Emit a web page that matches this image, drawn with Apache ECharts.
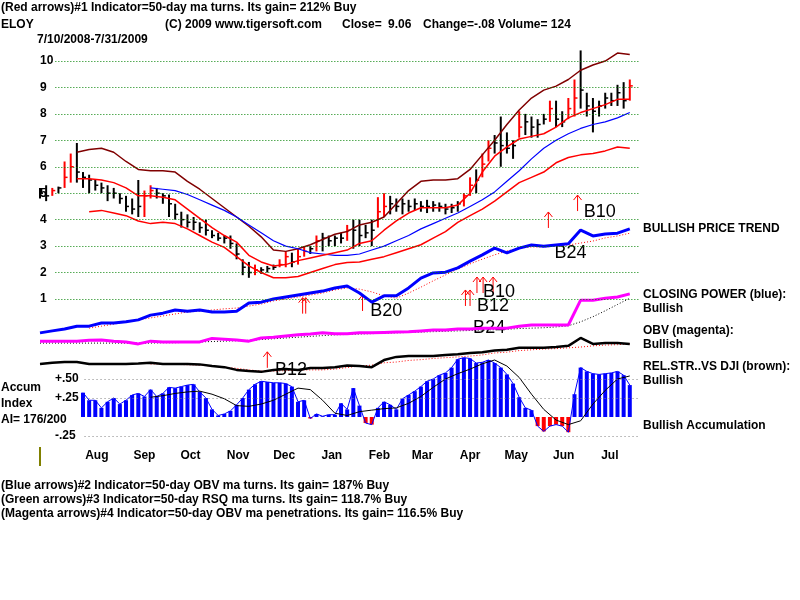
<!DOCTYPE html>
<html>
<head>
<meta charset="utf-8">
<script src="https://cdn.jsdelivr.net/npm/echarts@6/dist/echarts.min.js"></script>
<style>
  html, body { margin: 0; padding: 0; background: #fff; }
  #chart { width: 800px; height: 600px; }
</style>
</head>
<body>
<div id="chart"></div>
<script>
// ELOY 7/10/2008 - 7/31/2009, x values are calendar days from the first date
const startDate = Date.UTC(2008, 6, 10);
const barStep = 4;   // price bars and accumulation read every 4 days
const lineStep = 8;  // averages and indicator lines read every 8 days

const monthNames = ['Aug', 'Sep', 'Oct', 'Nov', 'Dec', 'Jan', 'Feb', 'Mar', 'Apr', 'May', 'Jun', 'Jul'];
const priceTicks = [1, 2, 3, 4, 5, 6, 7, 8, 9, 10];
const accumTicks = [-0.25, 0.25, 0.5];
const accumTickLabels = ['-.25', '+.25', '+.50'];

const priceHigh = [5.2, 5.3, 5.2, 5.25, 6.2, 6.5, 6.9, 5.8, 5.7, 5.5,
  5.4, 5.3, 5.2, 5.0, 4.9, 4.8, 5.5, 5.1, 5.3, 5.2,
  5.0, 4.95, 4.6, 4.3, 4.2, 4.1, 3.9, 4.0, 3.6, 3.5,
  3.4, 3.4, 3.1, 2.5, 2.4, 2.3, 2.2, 2.25, 2.3, 2.5,
  2.8, 2.75, 2.9, 3.0, 3.0, 3.4, 3.5, 3.4, 3.4, 3.5,
  3.8, 4.0, 4.0, 3.8, 4.0, 4.85, 5.0, 4.9, 4.8, 4.8,
  4.75, 4.8, 4.7, 4.75, 4.7, 4.65, 4.6, 4.6, 4.7, 5.0,
  5.6, 5.9, 6.5, 7.0, 7.2, 7.9, 7.3, 7.0, 8.1, 8.0,
  7.9, 7.8, 8.0, 8.5, 8.5, 8.1, 8.6, 9.3, 10.4, 8.8,
  8.6, 8.5, 8.8, 8.8, 9.1, 9.2, 9.3];
const priceLow = [4.8, 4.7, 4.9, 5.0, 5.2, 5.4, 5.4, 5.2, 5.0, 5.1,
  5.0, 4.7, 4.8, 4.6, 4.3, 4.2, 4.1, 4.1, 4.8, 4.8,
  4.6, 4.1, 4.0, 3.7, 3.7, 3.6, 3.5, 3.4, 3.3, 3.2,
  3.1, 2.9, 2.5, 1.9, 1.8, 1.9, 1.95, 2.0, 2.1, 2.2,
  2.2, 2.2, 2.3, 2.6, 2.7, 2.8, 2.8, 3.0, 3.0, 3.1,
  3.2, 2.9, 3.0, 3.3, 3.0, 3.7, 4.1, 4.2, 4.3, 4.2,
  4.3, 4.35, 4.3, 4.25, 4.3, 4.3, 4.2, 4.25, 4.3, 4.5,
  4.9, 5.0, 5.6, 6.2, 6.5, 6.0, 6.5, 6.3, 7.1, 7.2,
  7.1, 7.1, 7.6, 7.7, 7.5, 7.5, 7.8, 7.9, 8.2, 7.9,
  7.3, 7.9, 8.2, 8.3, 8.3, 8.2, 8.5];
const priceClose = [5.0, 4.9, 5.1, 5.2, 5.6, 6.0, 5.8, 5.6, 5.5, 5.3,
  5.2, 5.0, 5.0, 4.8, 4.5, 4.4, 4.5, 4.9, 5.1, 5.0,
  4.9, 4.6, 4.2, 4.0, 3.9, 3.9, 3.7, 3.6, 3.4, 3.3,
  3.3, 3.1, 2.7, 2.2, 2.0, 2.1, 2.1, 2.15, 2.2, 2.3,
  2.6, 2.4, 2.6, 2.8, 2.9, 3.2, 3.3, 3.2, 3.3, 3.3,
  3.6, 3.6, 3.4, 3.5, 3.6, 4.3, 4.5, 4.6, 4.5, 4.6,
  4.5, 4.6, 4.5, 4.5, 4.55, 4.5, 4.4, 4.45, 4.6, 4.9,
  5.3, 5.5, 6.1, 6.7, 6.9, 6.8, 6.7, 6.8, 7.5, 7.7,
  7.5, 7.6, 7.8, 8.2, 7.8, 7.7, 8.2, 8.6, 8.9, 8.3,
  8.1, 8.3, 8.6, 8.5, 8.8, 8.5, 9.06];

const upperBand = [null, null, null, 6.55, 6.65, 6.7, 6.55, 6.2, 5.9, 5.85,
  5.85, 5.8, 5.45, 5.15, 4.8, 4.45, 4.1, 3.75, 3.35, 2.85,
  2.8, 2.9, 3.05, 3.25, 3.45, 3.55, 3.8, 3.9, 4.1, 4.6,
  5.1, 5.45, 5.5, 5.5, 5.55, 5.9, 6.45, 7.0, 7.6, 8.15,
  8.6, 8.9, 9.05, 9.3, 9.65, 9.85, 10.0, 10.3, 10.25];
const midBand = [null, null, null, 5.55, 5.55, 5.5, 5.4, 5.2, 4.9, 4.9,
  4.85, 4.75, 4.4, 4.05, 3.7, 3.4, 3.15, 2.65, 2.4, 2.25,
  2.3, 2.45, 2.55, 2.65, 2.75, 2.85, 3.1, 3.2, 3.6, 3.95,
  4.25, 4.45, 4.45, 4.45, 4.55, 5.0, 5.8, 6.4, 6.75, 7.05,
  7.15, 7.25, 7.5, 7.85, 8.05, 8.2, 8.35, 8.55, 8.55];
const ma50 = [null, null, null, null, null, null, null, null, null, 5.2,
  5.15, 5.1, 4.95, 4.75, 4.55, 4.35, 4.1, 3.8, 3.5, 3.2,
  3.0, 2.9, 2.75, 2.7, 2.65, 2.65, 2.7, 2.85, 3.0, 3.2,
  3.4, 3.65, 3.85, 4.05, 4.25, 4.5, 4.75, 5.05, 5.45, 5.85,
  6.3, 6.7, 7.0, 7.25, 7.45, 7.6, 7.7, 7.85, 8.05];
const lowerBand = [null, null, null, null, 4.3, 4.35, 4.25, 4.15, 3.95, 3.85,
  3.9, 3.85, 3.65, 3.4, 3.15, 2.95, 2.6, 2.25, 2.0, 1.8,
  1.8, 1.85, 2.0, 2.15, 2.3, 2.38, 2.4, 2.5, 2.6, 2.75,
  2.9, 3.05, 3.3, 3.55, 3.9, 4.15, 4.4, 4.7, 5.05, 5.4,
  5.6, 5.8, 6.15, 6.35, 6.45, 6.5, 6.6, 6.75, 6.7];

// indicator panels, arbitrary units
const closingPower = [27.7, 28.2, 28.7, 29.4, 29.4, 30.2, 30.2, 30.5, 31.0, 32.2,
  32.7, 33.5, 33.2, 33.5, 33.0, 33.0, 33.2, 35.3, 35.5, 36.3,
  36.8, 37.3, 37.8, 38.3, 39.1, 39.6, 37.8, 35.5, 37.1, 37.1,
  39.1, 41.6, 42.9, 43.1, 44.2, 45.9, 47.5, 49.2, 48.0, 49.2,
  50.0, 49.7, 50.0, 50.3, 53.8, 52.3, 52.8, 53.0, 54.1];
const closingPowerMa = [null, null, null, null, 28.9, 29.4, 29.9, 30.5, 31.0, 31.5,
  32.0, 32.5, 33.0, 33.2, 33.5, 33.8, 34.0, 34.5, 35.0, 35.8,
  36.3, 36.8, 37.3, 37.8, 38.6, 39.1, 38.8, 38.1, 37.1, 36.5,
  37.8, 39.3, 40.9, 42.4, 43.9, 45.2, 46.4, 47.5, 48.5, 49.2,
  49.5, 49.5, 49.7, 50.0, 50.5, 51.0, 51.8, 52.3, 53.0];
const obv = [25.6, 25.6, 25.6, 25.6, 25.8, 25.9, 25.6, 25.4, 24.9, 25.6,
  25.4, 25.4, 25.4, 25.4, 26.3, 26.1, 25.9, 25.6, 26.4, 26.6,
  26.9, 27.2, 27.4, 27.7, 27.5, 27.5, 27.7, 27.7, 27.8, 27.9,
  28.0, 28.2, 28.4, 28.4, 28.7, 28.7, 28.9, 28.9, 28.9, 29.4,
  29.7, 29.7, 29.7, 29.7, 36.0, 36.0, 36.5, 36.8, 37.6];
const obvMa = [25.1, 25.1, 25.1, 25.1, 25.1, 25.1, 25.1, 25.1, 25.1, 25.1,
  25.2, 25.2, 25.3, 25.4, 25.5, 25.6, 25.7, 25.8, 26.0, 26.2,
  26.4, 26.6, 26.8, 27.0, 27.2, 27.3, 27.4, 27.5, 27.6, 27.7,
  27.8, 27.9, 28.0, 28.1, 28.2, 28.3, 28.4, 28.5, 28.6, 28.8,
  28.9, 29.0, 29.2, 29.5, 30.5, 31.8, 33.3, 34.9, 36.5];
const relStr = [19.8, 20.1, 20.3, 20.3, 19.8, 19.8, 19.8, 19.8, 19.9, 20.1,
  19.8, 19.8, 19.8, 19.7, 19.3, 19.0, 18.3, 18.0, 17.8, 18.3,
  18.5, 18.3, 18.8, 18.8, 19.0, 19.4, 19.3, 19.0, 20.8, 21.6,
  21.8, 21.8, 21.8, 22.1, 22.3, 22.6, 22.8, 23.2, 23.4, 23.9,
  23.9, 23.9, 24.1, 24.4, 26.4, 24.9, 25.1, 25.1, 24.9];
const relStrMa = [null, null, null, null, null, null, null, null, null, 19.8,
  19.8, 19.7, 19.6, 19.5, 19.3, 19.0, 18.7, 18.3, 18.0, 18.0,
  18.1, 18.3, 18.3, 18.3, 18.5, 18.9, 19.3, 19.5, 20.1, 20.3,
  20.7, 20.9, 21.2, 21.4, 21.6, 21.8, 22.1, 22.6, 22.8, 23.2,
  23.4, 23.6, 23.7, 23.9, 24.1, 24.4, 24.6, 24.7, 24.9];

const accumIndex = [null, null, null, null, null, null, null, 0.32, 0.22, 0.22,
  0.12, 0.2, 0.25, 0.17, 0.22, 0.29, 0.31, 0.27, 0.36, 0.27,
  0.31, 0.39, 0.38, 0.4, 0.42, 0.43, 0.33, 0.25, 0.1, 0.02,
  0.04, 0.08, 0.16, 0.25, 0.36, 0.43, 0.47, 0.46, 0.45, 0.45,
  0.44, 0.4, 0.2, 0.22, -0.02, 0.04, 0.01, 0.03, 0.03, 0.18,
  0.1, 0.38, 0.15, -0.08, -0.1, 0.12, 0.2, 0.16, 0.1, 0.24,
  0.29, 0.34, 0.4, 0.47, 0.5, 0.55, 0.58, 0.65, 0.76, 0.78,
  0.77, 0.71, 0.72, 0.75, 0.71, 0.65, 0.56, 0.44, 0.26, 0.12,
  0.09, -0.12, -0.19, -0.12, -0.1, -0.12, -0.2, 0.3, 0.65, 0.6,
  0.57, 0.56, 0.57, 0.58, 0.6, 0.55, 0.42];
const accumMa = [null, null, null, null, null, null, null, null, null, 0.26,
  0.28, 0.31, 0.33, 0.34, 0.3, 0.24, 0.15, 0.14, 0.17, 0.22,
  0.3, 0.38, 0.36, 0.22, 0.05, 0.02, 0.07, 0.09, 0.11, 0.12,
  0.18, 0.27, 0.39, 0.5, 0.57, 0.63, 0.7, 0.75, 0.67, 0.52,
  0.3, 0.1, -0.04, -0.1, -0.05, 0.17, 0.35, 0.5, 0.54];

// buy signals (red arrows): day and price-scale level of the arrow tip
const arrowDays = [148, 171, 173, 210, 277, 280, 284.5, 288.5, 295, 331, 350];
const arrowLevels = [-1.0, 1.05, 1.05, 1.15, 1.34, 1.34, 1.83, 1.83, 1.83, 4.29, 4.93];
const signalLabels = ['B12', 'B20', 'B12', 'B10', 'B24', 'B24', 'B10'];
const signalDays = [153, 215, 284.5, 288.5, 282, 335, 354];
const signalLevels = [-1.69, 0.54, 0.73, 1.26, -0.1, 2.74, 4.29];

const font = 'Liberation Sans, Arial, sans-serif';
const monthDays = monthNames.map((_, k) => Math.round((Date.UTC(2008, 7 + k, 16) - startDate) / 864e5));
const pairs = (vals, step) => vals.map((v, i) => [i * step, v]);
const bars = priceHigh.map((h, i) => [i * barStep, priceLow[i], h, priceClose[i]]);

const chart = echarts.init(document.getElementById('chart'));

function line(data, yAxisIndex, color, width, type) {
  return {
    type: 'line', data: pairs(data, lineStep), yAxisIndex: yAxisIndex,
    showSymbol: false, silent: true,
    lineStyle: { color: color, width: width, type: type || 'solid' }
  };
}

const upperSeries = line(upperBand, 0, '#800000', 1.5);
upperSeries.markLine = {
  silent: true, symbol: ['none', 'none'], label: { show: false },
  lineStyle: { color: '#008000', width: 1, type: [1, 2] },
  data: priceTicks.map(v => [{ coord: [10, v] }, { coord: [390, v] }])
};

const accumMaSeries = line(accumMa, 1, '#000000', 1);
accumMaSeries.markLine = {
  silent: true, symbol: ['none', 'none'], label: { show: false },
  lineStyle: { color: '#808080', width: 1, type: [1, 3] },
  data: accumTicks.map(v => [{ coord: [29, v] }, { coord: [390, v] }])
};

const accumOutline = {
  type: 'line', data: pairs(accumIndex, barStep), yAxisIndex: 1,
  showSymbol: false, silent: true,
  lineStyle: { color: '#0000ff', width: 1 }
};

const option = {
  animation: false,
  grid: { left: 40, right: 161, top: 48, bottom: 158 },
  xAxis: {
    type: 'value', min: 0, max: 390,
    axisLine: { show: false }, axisTick: { show: false }, splitLine: { show: false },
    axisLabel: {
      customValues: monthDays,
      formatter: v => monthNames[monthDays.indexOf(Math.round(v))],
      color: '#000', fontFamily: font, fontWeight: 'bold', fontSize: 12, margin: 8
    }
  },
  yAxis: [
    {
      type: 'value', position: 'left', min: -4.41, max: 10.492,
      axisLine: { show: false }, axisTick: { show: false }, splitLine: { show: false },
      axisLabel: {
        customValues: priceTicks, inside: true, margin: 0,
        color: '#000', fontFamily: font, fontWeight: 'bold', fontSize: 12
      }
    },
    {
      type: 'value', position: 'left', min: -0.329, max: 4.855,
      axisLine: { show: false }, axisTick: { show: false }, splitLine: { show: false },
      axisLabel: {
        customValues: accumTicks, inside: true, margin: 15,
        formatter: v => accumTickLabels[accumTicks.findIndex(t => Math.abs(t - v) < 1e-6)],
        color: '#000', fontFamily: font, fontWeight: 'bold', fontSize: 12
      }
    },
    { type: 'value', position: 'left', min: 0, max: 100, show: false }
  ],
  series: [
    upperSeries,
    line(lowerBand, 0, '#ff0000', 1.5),
    line(ma50, 0, '#0000ff', 1.2),
    line(midBand, 0, '#ff0000', 1.5),
    {
      type: 'custom', data: bars, yAxisIndex: 0, silent: true,
      encode: { x: 0, y: [1, 2, 3] },
      renderItem: (params, api) => {
        const x = api.value(0);
        const lo = api.coord([x, api.value(1)]);
        const hi = api.coord([x, api.value(2)]);
        const cl = api.coord([x, api.value(3)]);
        const i = params.dataIndex;
        const color = i > 0 && priceClose[i] >= priceClose[i - 1] * 1.04 ? '#ff0000' : '#000000';
        return {
          type: 'group', children: [
            { type: 'line', shape: { x1: lo[0], y1: lo[1], x2: hi[0], y2: hi[1] }, style: { stroke: color, lineWidth: 2 } },
            { type: 'line', shape: { x1: cl[0], y1: cl[1], x2: cl[0] + 3, y2: cl[1] }, style: { stroke: color, lineWidth: 1.5 } }
          ]
        };
      }
    },
    line(closingPowerMa, 2, '#ff0000', 1, [1, 2]),
    line(closingPower, 2, '#0000ff', 3),
    line(obvMa, 2, '#000000', 1, [1, 2]),
    line(obv, 2, '#ff00ff', 3),
    line(relStrMa, 2, '#ff0000', 1, [1, 2]),
    line(relStr, 2, '#000000', 2.5),
    {
      type: 'bar', data: pairs(accumIndex, barStep), yAxisIndex: 1, barWidth: 4, silent: true,
      itemStyle: { color: p => (p.value[1] < 0 ? '#ff0000' : '#0000ff') }
    },
    accumOutline,
    accumMaSeries,
    {
      type: 'custom', yAxisIndex: 0, silent: true,
      data: arrowDays.map((d, i) => [d, arrowLevels[i]]),
      renderItem: (params, api) => {
        const tip = api.coord([api.value(0), api.value(1)]);
        return {
          type: 'group', children: [
            { type: 'line', shape: { x1: tip[0], y1: tip[1], x2: tip[0], y2: tip[1] + 16 }, style: { stroke: '#ff0000', lineWidth: 1 } },
            { type: 'polyline', shape: { points: [[tip[0] - 4, tip[1] + 5], [tip[0], tip[1]], [tip[0] + 4, tip[1] + 5]] }, style: { stroke: '#ff0000', fill: null, lineWidth: 1 } }
          ]
        };
      }
    },
    {
      type: 'custom', yAxisIndex: 0, silent: true,
      data: signalDays.map((d, i) => [d, signalLevels[i]]),
      renderItem: (params, api) => {
        const p = api.coord([api.value(0), api.value(1)]);
        return {
          type: 'text', x: p[0], y: p[1],
          style: { text: signalLabels[params.dataIndex], font: '18px ' + font, fill: '#000', align: 'left', verticalAlign: 'middle' }
        };
      }
    }
  ],
  graphic: [
    ['(Red arrows)#1 Indicator=50-day ma turns. Its gain= 212% Buy', 1, 8],
    ['ELOY', 1, 25],
    ['(C) 2009 www.tigersoft.com', 165, 25],
    ['Close=', 342, 25],
    ['9.06', 388, 25],
    ['Change=-.08 Volume= 124', 423, 25],
    ['7/10/2008-7/31/2009', 37, 40],
    ['BULLISH PRICE TREND', 643, 229],
    ['CLOSING POWER (blue):', 643, 295],
    ['Bullish', 643, 309],
    ['OBV (magenta):', 643, 331],
    ['Bullish', 643, 345],
    ['REL.STR..VS DJI (brown):', 643, 367],
    ['Bullish', 643, 381],
    ['Bullish Accumulation', 643, 426],
    ['Accum', 1, 388],
    ['Index', 1, 404],
    ['AI= 176/200', 1, 420],
    ['(Blue arrows)#2 Indicator=50-day OBV ma turns. Its gain= 187% Buy', 1, 486],
    ['(Green arrows)#3 Indicator=50-day RSQ ma turns. Its gain= 118.7% Buy', 1, 500],
    ['(Magenta arrows)#4 Indicator=50-day OBV ma penetrations. Its gain= 116.5% Buy', 1, 514]
  ].map(t => ({
    type: 'text', x: t[1], y: t[2], silent: true,
    style: { text: t[0], font: 'bold 12px ' + font, fill: '#000', verticalAlign: 'middle' }
  })).concat([{
    type: 'line', silent: true,
    shape: { x1: 40, y1: 447, x2: 40, y2: 466 },
    style: { stroke: '#808000', lineWidth: 2 }
  }])
};

chart.setOption(option);
</script>
</body>
</html>
